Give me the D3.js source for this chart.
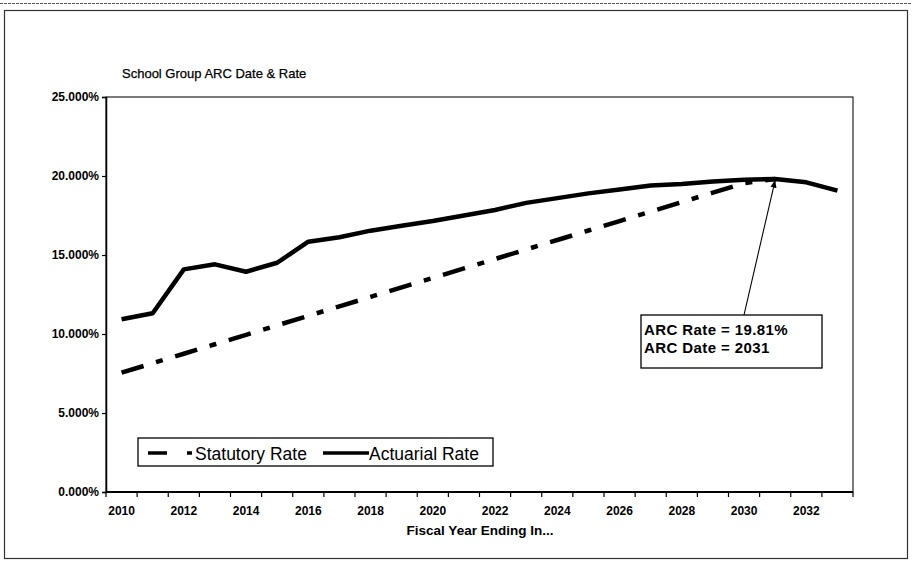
<!DOCTYPE html>
<html>
<head>
<meta charset="utf-8">
<script src="https://cdn.jsdelivr.net/npm/d3@7"></script>
<style>
  html, body { margin: 0; padding: 0; background: #fff; }
  svg { display: block; }
  text { font-family: "Liberation Sans", Arial, sans-serif; fill: #000; }
</style>
</head>
<body>
<svg id="chart" width="912" height="561"></svg>
<script>
// Fiscal years on the category axis
const years = [2010, 2011, 2012, 2013, 2014, 2015, 2016, 2017, 2018, 2019, 2020, 2021,
               2022, 2023, 2024, 2025, 2026, 2027, 2028, 2029, 2030, 2031, 2032, 2033];

// Actuarial contribution rate (%) by year
const actuarialRate = [10.93, 11.31, 14.09, 14.41, 13.94, 14.51, 15.84, 16.12, 16.54, 16.85,
                       17.15, 17.50, 17.85, 18.30, 18.60, 18.90, 19.15, 19.40, 19.50, 19.65,
                       19.76, 19.81, 19.60, 19.07];

// Statutory rate (%) from 2010 until it reaches the actuarial rate
const statutoryYears = [2010, 2011, 2012, 2013, 2014, 2015, 2016, 2017, 2018, 2019, 2020,
                        2021, 2022, 2023, 2024, 2025, 2026, 2027, 2028, 2029, 2030, 2031];
const statutoryRate = [7.55, 8.15, 8.75, 9.35, 9.95, 10.55, 11.15, 11.75, 12.35, 12.95, 13.55,
                       14.15, 14.75, 15.35, 15.95, 16.55, 17.15, 17.75, 18.35, 18.95, 19.55, 19.81];

// Axis ticks
const yTicks = [0, 5, 10, 15, 20, 25];
const xLabelYears = [2010, 2012, 2014, 2016, 2018, 2020, 2022, 2024, 2026, 2028, 2030, 2032];

// ARC point
const arcYear = 2031;
const arcRate = 19.81;

const svg = d3.select("#chart");
const plot = { left: 106, right: 853, top: 97, bottom: 492 };

const x = d3.scaleBand().domain(years).range([plot.left, plot.right]).paddingInner(0).paddingOuter(0);
const xc = yr => x(yr) + x.bandwidth() / 2;
const y = d3.scaleLinear().domain([0, 25]).range([plot.bottom, plot.top]);

// Chart frame
svg.append("line").attr("x1", 0).attr("x2", 912).attr("y1", 3.5).attr("y2", 3.5)
  .attr("stroke", "#555").attr("stroke-width", 1).attr("stroke-dasharray", "3,1");
svg.append("rect").attr("x", 4.5).attr("y", 10.5).attr("width", 903).attr("height", 548)
  .attr("fill", "none").attr("stroke", "#333").attr("stroke-width", 1.2);

// Title
svg.append("text").attr("x", 122).attr("y", 78)
  .attr("font-size", 13).attr("stroke", "#000").attr("stroke-width", 0.25)
  .text("School Group ARC Date & Rate");

// Plot-area border
svg.append("rect")
  .attr("x", plot.left).attr("y", plot.top)
  .attr("width", plot.right - plot.left).attr("height", plot.bottom - plot.top)
  .attr("fill", "none").attr("stroke", "#222").attr("stroke-width", 1.2);

// Y axis
const yAxis = d3.axisLeft(y).tickValues(yTicks).tickSize(4).tickPadding(3)
  .tickFormat(d => d3.format(".3f")(d) + "%");
const gy = svg.append("g").attr("transform", `translate(${plot.left},0)`).call(yAxis);
gy.select(".domain").attr("stroke", "#000").attr("stroke-width", 1.5);
gy.selectAll(".tick line").attr("stroke", "#000").attr("stroke-width", 1.2);
gy.selectAll(".tick text").attr("font-size", 12).attr("font-weight", "bold")
  .attr("font-family", "Liberation Sans, Arial, sans-serif").attr("fill", "#000");

// X axis: boundary ticks and labels on every other year
const gx = svg.append("g").attr("transform", `translate(0,${plot.bottom})`);
gx.append("line").attr("x1", plot.left).attr("x2", plot.right).attr("y1", 0).attr("y2", 0)
  .attr("stroke", "#000").attr("stroke-width", 1.8);
gx.selectAll("line.bt").data(years.concat([null])).join("line").attr("class", "bt")
  .attr("x1", (d, i) => i < years.length ? x(d) : plot.right)
  .attr("x2", (d, i) => i < years.length ? x(d) : plot.right)
  .attr("y1", 0).attr("y2", 5).attr("stroke", "#000").attr("stroke-width", 1.2);
gx.selectAll("text").data(xLabelYears).join("text")
  .attr("x", d => xc(d)).attr("y", 23)
  .attr("text-anchor", "middle").attr("font-size", 12).attr("font-weight", "bold")
  .text(d => d);

// Axis title
svg.append("text").attr("x", 480).attr("y", 535).attr("text-anchor", "middle")
  .attr("font-size", 13.5).attr("font-weight", "bold")
  .text("Fiscal Year Ending In...");

// Series lines
const line = d3.line().x(d => xc(d[0])).y(d => y(d[1]));

svg.append("path")
  .datum(statutoryYears.map((yr, i) => [yr, statutoryRate[i]]))
  .attr("d", line).attr("fill", "none").attr("stroke", "#000")
  .attr("stroke-width", 4.5).attr("stroke-dasharray", "23,13,7,13");

svg.append("path")
  .datum(years.map((yr, i) => [yr, actuarialRate[i]]))
  .attr("d", line).attr("fill", "none").attr("stroke", "#000")
  .attr("stroke-width", 4.5).attr("stroke-linejoin", "round");

// Annotation with arrow to the ARC point
svg.append("defs").append("marker").attr("id", "arrowhead")
  .attr("viewBox", "0 0 10 10").attr("refX", 10).attr("refY", 5)
  .attr("markerWidth", 7).attr("markerHeight", 7).attr("orient", "auto")
  .append("path").attr("d", "M0,1 L10,5 L0,9 Z").attr("fill", "#000");

const box = { x: 641, y: 315, w: 181, h: 53 };
svg.append("line")
  .attr("x1", 744).attr("y1", box.y)
  .attr("x2", xc(arcYear)).attr("y2", y(arcRate) + 1)
  .attr("stroke", "#000").attr("stroke-width", 1.1).attr("marker-end", "url(#arrowhead)");
svg.append("rect").attr("x", box.x).attr("y", box.y).attr("width", box.w).attr("height", box.h)
  .attr("fill", "#fff").attr("stroke", "#000").attr("stroke-width", 1.3);
svg.append("text").attr("x", box.x + 3).attr("y", box.y + 20)
  .attr("font-size", 15).attr("font-weight", "bold").attr("letter-spacing", 0.4)
  .text("ARC Rate = " + d3.format(".2f")(arcRate) + "%");
svg.append("text").attr("x", box.x + 3).attr("y", box.y + 38)
  .attr("font-size", 15).attr("font-weight", "bold").attr("letter-spacing", 0.4)
  .text("ARC Date = " + arcYear);

// Legend
const lg = svg.append("g");
lg.append("rect").attr("x", 138).attr("y", 438).attr("width", 355).attr("height", 28)
  .attr("fill", "#fff").attr("stroke", "#000").attr("stroke-width", 1.3);
lg.append("line").attr("x1", 148).attr("x2", 167).attr("y1", 453).attr("y2", 453)
  .attr("stroke", "#000").attr("stroke-width", 3.5);
lg.append("line").attr("x1", 187).attr("x2", 192).attr("y1", 453).attr("y2", 453)
  .attr("stroke", "#000").attr("stroke-width", 3.5);
lg.append("text").attr("x", 195).attr("y", 459.5).attr("font-size", 17.5).text("Statutory Rate");
lg.append("line").attr("x1", 323).attr("x2", 369).attr("y1", 453).attr("y2", 453)
  .attr("stroke", "#000").attr("stroke-width", 3.5);
lg.append("text").attr("x", 369).attr("y", 459.5).attr("font-size", 17.5).text("Actuarial Rate");
</script>
</body>
</html>
